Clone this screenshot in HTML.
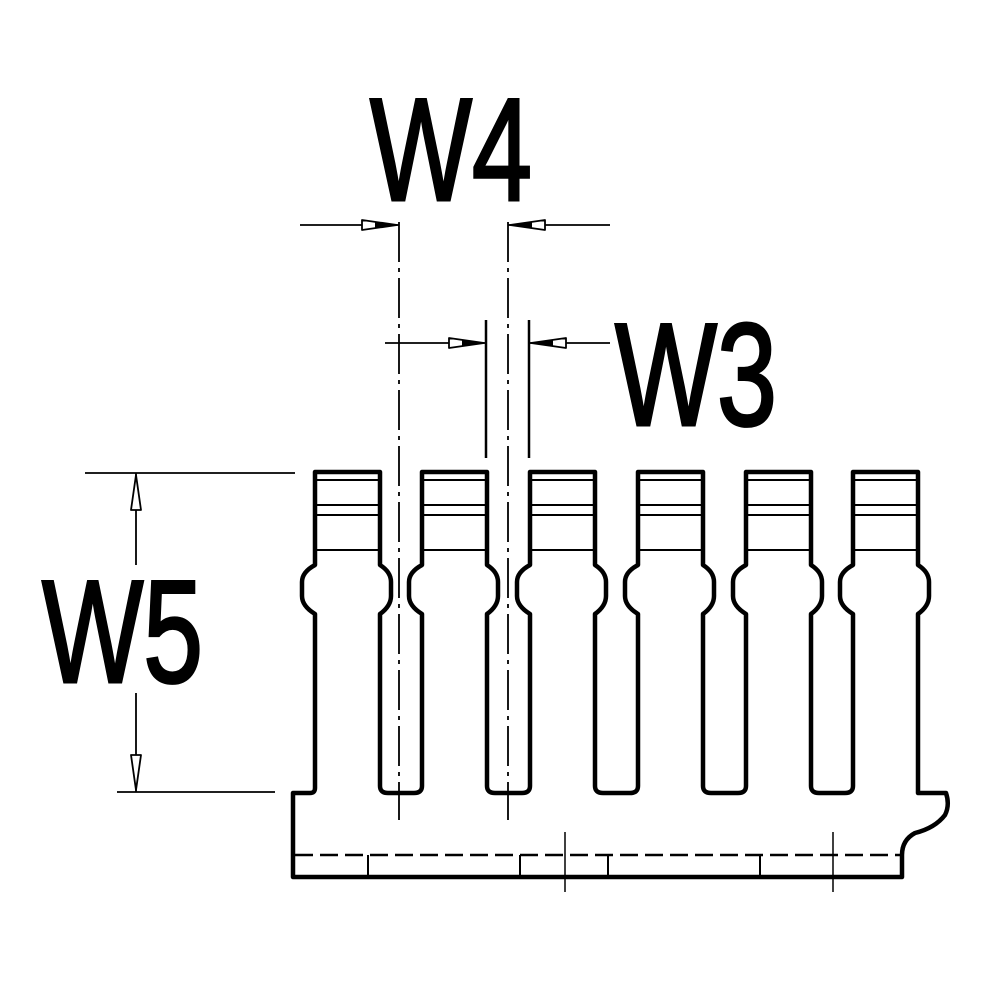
<!DOCTYPE html>
<html><head><style>html,body{margin:0;padding:0;background:#fff}svg{display:block}</style></head>
<body>
<svg width="1000" height="1000" viewBox="0 0 1000 1000" xmlns="http://www.w3.org/2000/svg">
<g fill="none" stroke="#000" stroke-linejoin="round">
<path stroke-width="4.5" d="
M293,877 L293,793 L310,793 Q315,793 315,788 L315,614 Q302,606 302,596 L302,582 Q302,572 315,565 L315,472 L380,472 L380,565 Q391,572 391,582 L391,596 Q391,606 380,614 L380,786 Q380,793 388,793 L414,793 Q422,793 422,786
L422,614 Q409,606 409,596 L409,582 Q409,572 422,565 L422,472 L487,472 L487,565 Q498,572 498,582 L498,596 Q498,606 487,614 L487,786 Q487,793 495,793 L522,793 Q530,793 530,786
L530,614 Q517,606 517,596 L517,582 Q517,572 530,565 L530,472 L595,472 L595,565 Q606,572 606,582 L606,596 Q606,606 595,614 L595,786 Q595,793 603,793 L630,793 Q638,793 638,786
L638,614 Q625,606 625,596 L625,582 Q625,572 638,565 L638,472 L703,472 L703,565 Q714,572 714,582 L714,596 Q714,606 703,614 L703,786 Q703,793 711,793 L738,793 Q746,793 746,786
L746,614 Q733,606 733,596 L733,582 Q733,572 746,565 L746,472 L811,472 L811,565 Q822,572 822,582 L822,596 Q822,606 811,614 L811,786 Q811,793 819,793 L845,793 Q853,793 853,786
L853,614 Q840,606 840,596 L840,582 Q840,572 853,565 L853,472 L918,472 L918,565 Q929,572 929,582 L929,596 Q929,606 918,614 L918,793 L946,793 Q950,805 945,815 Q935,828 915,833 Q902,840 902,855 L902,877 Z"/>
<g stroke-width="2">
<path d="M317,480H378M317,505H378M317,515H378M317,550H378"/>
<path d="M424,480H485M424,505H485M424,515H485M424,550H485"/>
<path d="M532,480H593M532,505H593M532,515H593M532,550H593"/>
<path d="M640,480H701M640,505H701M640,515H701M640,550H701"/>
<path d="M748,480H809M748,505H809M748,515H809M748,550H809"/>
<path d="M855,480H916M855,505H916M855,515H916M855,550H916"/>
</g>
<path stroke-width="2.5" d="M295,855H900" stroke-dasharray="18,7"/>
<path stroke-width="2" d="M368,855V877M520,855V877M608,855V877M760,855V877"/>
<path stroke-width="1.5" d="M565,832V892M833,832V892"/>
<path stroke-width="1.8" d="M399,222V820M508,222V820" stroke-dasharray="40,6,4,6"/>
<path stroke-width="1.8" d="M300,225H399M508,225H610"/>
<path stroke-width="1.8" fill="#fff" d="M397,225L362,220L362,230Z M510,225L545,220L545,230Z"/>
<path fill="#000" stroke="none" d="M397,225L375,222L375,228Z M510,225L532,222L532,228Z"/>
<path stroke-width="2.5" d="M486,320V458M529,320V458"/>
<path stroke-width="1.8" d="M385,343H486M529,343H610"/>
<path stroke-width="1.8" fill="#fff" d="M484,343L449,338L449,348Z M531,343L566,338L566,348Z"/>
<path fill="#000" stroke="none" d="M484,343L462,340L462,346Z M531,343L553,340L553,346Z"/>
<path stroke-width="1.8" d="M85,473H295M117,792H275M136,473V565M136,693V792"/>
<path stroke-width="1.8" fill="#fff" d="M136,475L131,510L141,510Z M136,790L131,755L141,755Z"/>
</g>
<g font-family="'Liberation Sans Narrow','Liberation Sans',sans-serif" font-weight="normal" font-size="146" fill="#000" stroke="#000" stroke-width="3">
<text x="370" y="200" textLength="162" lengthAdjust="spacingAndGlyphs">W4</text>
<text x="615" y="425" textLength="162" lengthAdjust="spacingAndGlyphs">W3</text>
<text x="42" y="682" textLength="161" lengthAdjust="spacingAndGlyphs">W5</text>
</g>
</svg>
</body></html>
